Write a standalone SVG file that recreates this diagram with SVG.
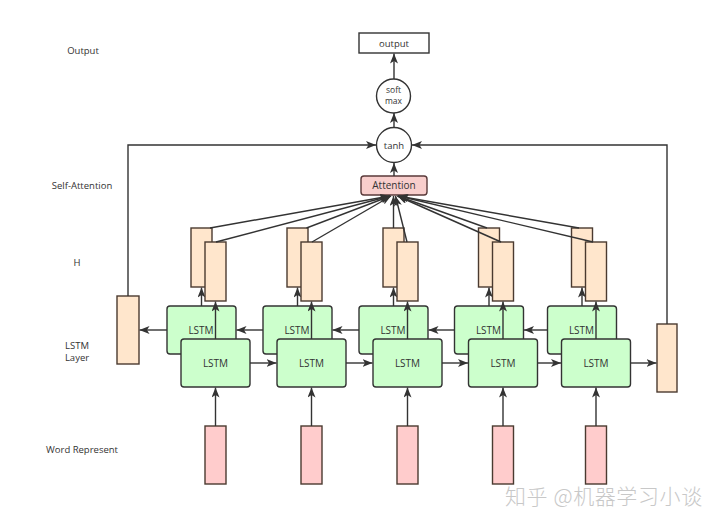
<svg xmlns="http://www.w3.org/2000/svg" width="720" height="527" viewBox="0 0 720 527">
<defs>
<marker id="arr" viewBox="0 0 10 8" refX="10" refY="4" markerWidth="10" markerHeight="8" orient="auto" markerUnits="userSpaceOnUse">
<path d="M0,0 L10,4 L0,8 L2.5,4 z" fill="#333"/>
</marker>
<style>
.t{font-family:"Open Sans","Noto Sans","DejaVu Sans",sans-serif;fill:#333;text-anchor:middle}
.lbl{font-size:9.5px}
.lstm{fill:#ccffcc;stroke:#333;stroke-width:1.4}
.h{fill:#ffe6cc;stroke:#4a3a30;stroke-width:1.4}
.w{fill:#ffcccc;stroke:#4a3a30;stroke-width:1.4}
.c{fill:none;stroke:#333;stroke-width:1.4;marker-end:url(#arr)}
</style>
</defs>
<rect width="720" height="527" fill="#fff"/>

<g id="row-labels">
<text class="t lbl" x="83" y="54">Output</text>
<text class="t lbl" x="82" y="189">Self-Attention</text>
<text class="t lbl" x="77" y="266">H</text>
<text class="t lbl" x="77" y="349">LSTM</text>
<text class="t lbl" x="77" y="361">Layer</text>
<text class="t lbl" x="82" y="453">Word Represent</text>
</g>

<g id="output"><rect x="359" y="33" width="70" height="20" fill="#fff" stroke="#333" stroke-width="1.4"/><text class="t" x="394" y="46.5" font-size="9.5">output</text></g>
<g id="softmax"><circle cx="393.5" cy="96" r="17" fill="#fff" stroke="#333" stroke-width="1.4"/><text class="t" x="393.5" y="93" font-size="8.5">soft</text><text class="t" x="393.5" y="104" font-size="8.5">max</text></g>
<g id="tanh"><circle cx="394" cy="145" r="17.5" fill="#fff" stroke="#333" stroke-width="1.4"/><text class="t" x="394" y="148.5" font-size="9.5">tanh</text></g>
<g id="attention"><rect x="361" y="176" width="66" height="19" rx="3" fill="#f8cecc" stroke="#5a3a3a" stroke-width="1.4"/><text class="t" x="394" y="189" font-size="10">Attention</text></g>

<g id="side-left"><rect x="117" y="296" width="22" height="68" class="h"/></g>
<g id="side-right"><rect x="657" y="324" width="20" height="68" class="h"/></g>

<g id="lstm-back">
<rect x="167" y="306" width="69" height="48" rx="3" class="lstm"/><text class="t" x="201" y="333.5" font-size="10">LSTM</text>
<rect x="263" y="306" width="69" height="48" rx="3" class="lstm"/><text class="t" x="297" y="333.5" font-size="10">LSTM</text>
<rect x="359" y="306" width="69" height="48" rx="3" class="lstm"/><text class="t" x="393" y="333.5" font-size="10">LSTM</text>
<rect x="454.5" y="306" width="69" height="48" rx="3" class="lstm"/><text class="t" x="488.5" y="333.5" font-size="10">LSTM</text>
<rect x="547.5" y="306" width="69" height="48" rx="3" class="lstm"/><text class="t" x="581.5" y="333.5" font-size="10">LSTM</text>
</g>

<g id="h-back">
<rect x="191" y="228" width="21" height="59" class="h"/>
<rect x="287" y="228" width="21" height="59" class="h"/>
<rect x="383" y="228" width="21" height="59" class="h"/>
<rect x="478.5" y="228" width="21" height="59" class="h"/>
<rect x="571.5" y="228" width="21" height="59" class="h"/>
</g>

<g id="connectors">
<path class="c" d="M128,296 V145 H376"/>
<path class="c" d="M667,324 V145 H412"/>
<path class="c" d="M394,176 V163"/>
<path class="c" d="M394,127.5 V113"/>
<path class="c" d="M394,79 V53.5"/>
<path class="c" d="M201.5,306 V287.5"/>
<path class="c" d="M297.5,306 V287.5"/>
<path class="c" d="M393.5,306 V287.5"/>
<path class="c" d="M489,306 V287.5"/>
<path class="c" d="M582,306 V287.5"/>
<path class="c" d="M263,330 H236.5"/>
<path class="c" d="M359,330 H332.5"/>
<path class="c" d="M454.5,330 H428.5"/>
<path class="c" d="M547.5,330 H524"/>
<path class="c" d="M167,330 H139.5"/>
<path class="c" d="M210,228 L390,196"/>
<path class="c" d="M306.5,228 L390.5,196"/>
<path class="c" d="M393.5,228 V196"/>
<path class="c" d="M487,228 L397.5,196"/>
<path class="c" d="M579,228 L398,196"/>
</g>

<g id="lstm-front">
<rect x="181" y="339" width="69" height="48" rx="3" class="lstm"/><text class="t" x="215.5" y="366.5" font-size="10">LSTM</text>
<rect x="277" y="339" width="69" height="48" rx="3" class="lstm"/><text class="t" x="311.5" y="366.5" font-size="10">LSTM</text>
<rect x="373" y="339" width="69" height="48" rx="3" class="lstm"/><text class="t" x="407.5" y="366.5" font-size="10">LSTM</text>
<rect x="468.5" y="339" width="69" height="48" rx="3" class="lstm"/><text class="t" x="503" y="366.5" font-size="10">LSTM</text>
<rect x="561.5" y="339" width="69" height="48" rx="3" class="lstm"/><text class="t" x="596" y="366.5" font-size="10">LSTM</text>
</g>

<g id="h-front">
<rect x="205" y="242" width="21" height="59" class="h"/>
<rect x="301" y="242" width="21" height="59" class="h"/>
<rect x="397" y="242" width="21" height="59" class="h"/>
<rect x="492.5" y="242" width="21" height="59" class="h"/>
<rect x="585.5" y="242" width="21" height="59" class="h"/>
</g>

<g id="word-represent">
<rect x="205" y="426" width="21" height="58" class="w"/>
<rect x="301" y="426" width="21" height="58" class="w"/>
<rect x="397" y="426" width="21" height="58" class="w"/>
<rect x="492.5" y="426" width="21" height="58" class="w"/>
<rect x="585.5" y="426" width="21" height="58" class="w"/>
</g>

<g id="connectors-front">
<path class="c" d="M215.5,339 V301.5"/>
<path class="c" d="M311.5,339 V301.5"/>
<path class="c" d="M407.5,339 V301.5"/>
<path class="c" d="M503,339 V301.5"/>
<path class="c" d="M596,339 V301.5"/>
<path class="c" d="M250,363 H276.5"/>
<path class="c" d="M346,363 H372.5"/>
<path class="c" d="M442,363 H468"/>
<path class="c" d="M537.5,363 H561"/>
<path class="c" d="M630.5,363 H656.5"/>
<path class="c" d="M215.5,426 V387.5"/>
<path class="c" d="M311.5,426 V387.5"/>
<path class="c" d="M407.5,426 V387.5"/>
<path class="c" d="M503,426 V387.5"/>
<path class="c" d="M596,426 V387.5"/>
<path class="c" d="M216,242 L390,196"/>
<path class="c" d="M312,242 L391,196"/>
<path class="c" d="M407,242 L395.5,196"/>
<path class="c" d="M501,242 L397.5,196"/>
<path class="c" d="M593,242 L398.5,196"/>
</g>

<text x="505" y="504" font-family="'Noto Sans CJK SC',sans-serif" font-size="21" letter-spacing="0.6" font-weight="300" fill="#c8c8c8">知乎 @机器学习小谈</text>
</svg>
